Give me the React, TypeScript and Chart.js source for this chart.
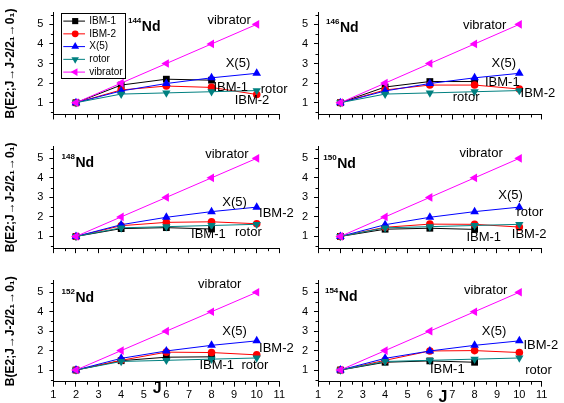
import React, { useEffect, useRef } from 'react';
import { Chart, registerables } from 'chart.js';

Chart.register(...registerables);

// ---------- data ----------
const J_VALUES = [2, 4, 6, 8, 10];
const J_IBM1 = [2, 4, 6, 8];
const X_TICKS = [1, 2, 3, 4, 5, 6, 7, 8, 9, 10, 11];
const Y_TICKS = [1, 2, 3, 4, 5];
const MASS_NUMBERS = ['144', '146', '148', '150', '152', '154'];
const ELEMENT = 'Nd';
const SERIES_NAMES = ['IBM-1', 'IBM-2', 'X(5)', 'rotor', 'vibrator'];
const Y_TITLE = 'B(E2;J→J-2/2₁→0₁)';
const X_TITLE = 'J';

const VIBRATOR = [1, 2, 3, 4, 5];
const X5 = [1, 1.6, 1.98, 2.27, 2.5];
const ROTOR = [1, 1.44, 1.5, 1.56, 1.62];

const IBM1_144 = [1, 1.9, 2.2, 2.15];
const IBM1_146 = [1, 1.8, 2.08, 2.08];
const IBM1_148 = [1, 1.4, 1.45, 1.38];
const IBM1_150 = [1, 1.37, 1.42, 1.36];
const IBM1_152 = [1, 1.48, 1.66, 1.68];
const IBM1_154 = [1, 1.4, 1.47, 1.4];

const IBM2_144 = [1, 1.65, 1.85, 1.78, 1.42];
const IBM2_146 = [1, 1.65, 1.9, 1.9, 1.7];
const IBM2_148 = [1, 1.55, 1.72, 1.75, 1.65];
const IBM2_150 = [1, 1.47, 1.63, 1.62, 1.48];
const IBM2_152 = [1, 1.5, 1.92, 1.9, 1.78];
const IBM2_154 = [1, 1.5, 1.98, 2.0, 1.9];

const IBM1_ALL = [IBM1_144, IBM1_146, IBM1_148, IBM1_150, IBM1_152, IBM1_154];
const IBM2_ALL = [IBM2_144, IBM2_146, IBM2_148, IBM2_150, IBM2_152, IBM2_154];

// ---------- layout / styles ----------
const FONT = '"Liberation Sans", Arial, Helvetica, sans-serif';
const Y_MIN = 0.4;
const Y_MAX = 5.6;

const COLS = [
  { left: 0, width: 310, yWidth: 53.4, padRight: 30.7, yTitle: true },
  { left: 290, width: 274, yWidth: 28, padRight: 22.3, yTitle: false },
];
const ROWS = [
  { top: 0, height: 134, padTop: 6.55, xHeight: 19.55, xLabels: false },
  { top: 134, height: 134, padTop: 6.25, xHeight: 19.85, xLabels: false },
  { top: 268, height: 135, padTop: 6.3, xHeight: 21.3, xLabels: true },
];

const STYLES = [
  { color: '#000000', shape: 'rect', radius: 4.8, rotation: 0, order: 4 },
  { color: '#ff0000', shape: 'circle', radius: 3.8, rotation: 0, order: 3 },
  { color: '#0000ff', shape: 'triangle', radius: 5, rotation: 0, order: 2 },
  { color: '#008080', shape: 'triangle', radius: 4.8, rotation: 180, order: 1 },
  { color: '#ff00ff', shape: 'triangle', radius: 5, rotation: 270, order: 0 },
];

// annotation label positions in data coordinates [text, J, value]
const LABEL_POS: [string, number, number][][] = [
  [['vibrator', 8.78, 5.19], ['X(5)', 9.17, 3.02], ['IBM-1', 8.85, 1.77], ['rotor', 10.77, 1.66], ['IBM-2', 9.79, 1.1]],
  [['vibrator', 8.45, 4.92], ['X(5)', 9.31, 2.99], ['IBM-1', 9.24, 2.06], ['rotor', 7.62, 1.29], ['IBM-2', 10.83, 1.45]],
  [['vibrator', 8.68, 5.21], ['X(5)', 9.02, 2.72], ['IBM-2', 10.87, 2.16], ['IBM-1', 7.86, 1.11], ['rotor', 9.63, 1.19]],
  [['vibrator', 8.29, 5.26], ['X(5)', 9.61, 3.12], ['rotor', 10.47, 2.21], ['IBM-1', 8.41, 0.95], ['IBM-2', 10.44, 1.11]],
  [['vibrator', 8.36, 5.4], ['X(5)', 9.02, 2.98], ['IBM-2', 10.87, 2.13], ['IBM-1', 8.23, 1.26], ['rotor', 9.92, 1.26]],
  [['vibrator', 8.5, 5.08], ['X(5)', 8.87, 2.98], ['IBM-2', 10.96, 2.29], ['IBM-1', 6.78, 1.02], ['rotor', 10.86, 1.0]],
];
// panel title position: [left J, baseline value]
const TITLE_POS: [number, number][] = [
  [4.3, 4.64], [1.36, 4.63], [1.36, 4.57], [1.24, 4.49], [1.36, 4.51], [1.31, 4.55],
];
// "J" axis label position [J, value] for bottom panels
const XTITLE_POS: Record<number, [number, number]> = { 4: [5.59, 0.05], 5: [6.59, -0.44] };

function drawMarker(ctx: CanvasRenderingContext2D, st: any, x: number, y: number) {
  const r = st.radius;
  ctx.beginPath();
  if (st.shape === 'rect') {
    const s = r * Math.SQRT1_2;
    ctx.rect(x - s, y - s, 2 * s, 2 * s);
  } else if (st.shape === 'circle') {
    ctx.arc(x, y, r, 0, Math.PI * 2);
  } else {
    let rad = (st.rotation * Math.PI) / 180;
    ctx.moveTo(x + Math.sin(rad) * r, y - Math.cos(rad) * r);
    rad += (2 * Math.PI) / 3;
    ctx.lineTo(x + Math.sin(rad) * r, y - Math.cos(rad) * r);
    rad += (2 * Math.PI) / 3;
    ctx.lineTo(x + Math.sin(rad) * r, y - Math.cos(rad) * r);
    ctx.closePath();
  }
  ctx.fillStyle = st.color;
  ctx.fill();
}

const overlayPlugin = {
  id: 'overlay',
  afterDraw(chart: any, _args: any, opts: any) {
    const ctx: CanvasRenderingContext2D = chart.ctx;
    const xs = chart.scales.x;
    const ys = chart.scales.y;
    const ca = chart.chartArea;
    const idx: number = opts.idx;
    ctx.save();
    // minor ticks
    ctx.strokeStyle = '#000';
    ctx.lineWidth = 1;
    for (let i = 0; i < X_TICKS.length - 1; i++) {
      const v = (X_TICKS[i] + X_TICKS[i + 1]) / 2;
      const px = Math.round(xs.getPixelForValue(v)) + 0.5;
      ctx.beginPath();
      ctx.moveTo(px, ca.bottom);
      ctx.lineTo(px, ca.bottom + 3);
      ctx.stroke();
    }
    const yMinor = [Y_TICKS[0] - 0.5, ...Y_TICKS.map((v) => v + 0.5)];
    for (const v of yMinor) {
      if (v < Y_MIN || v > Y_MAX) continue;
      const py = Math.round(ys.getPixelForValue(v)) + 0.5;
      ctx.beginPath();
      ctx.moveTo(ca.left, py);
      ctx.lineTo(ca.left - 2.5, py);
      ctx.stroke();
    }
    // annotations
    ctx.fillStyle = '#000';
    ctx.font = `13px ${FONT}`;
    ctx.textAlign = 'center';
    ctx.textBaseline = 'middle';
    for (const [t, j, v] of LABEL_POS[idx]) {
      ctx.fillText(t, xs.getPixelForValue(j), ys.getPixelForValue(v));
    }
    // title
    const [tj, tv] = TITLE_POS[idx];
    const tx = xs.getPixelForValue(tj);
    const ty = ys.getPixelForValue(tv);
    ctx.textAlign = 'left';
    ctx.textBaseline = 'alphabetic';
    ctx.font = `bold 8px ${FONT}`;
    const mass = MASS_NUMBERS[idx];
    ctx.fillText(mass, tx, ty - 8);
    const mw = ctx.measureText(mass).width;
    ctx.font = `bold 14px ${FONT}`;
    ctx.fillText(ELEMENT, tx + mw + 0.5, ty);
    // x axis title
    if (XTITLE_POS[idx]) {
      const [xj, xv] = XTITLE_POS[idx];
      ctx.font = `bold 16px ${FONT}`;
      ctx.textAlign = 'center';
      ctx.textBaseline = 'middle';
      ctx.fillText(X_TITLE, xs.getPixelForValue(xj), ys.getPixelForValue(xv));
    }
    // legend
    if (opts.legend) {
      const bx = ca.left + 7.3;
      const by = ca.top + 0.2;
      const bw = 64.3;
      const bh = 65;
      ctx.fillStyle = '#fff';
      ctx.fillRect(bx, by, bw, bh);
      ctx.strokeStyle = '#000';
      ctx.lineWidth = 1;
      ctx.strokeRect(Math.round(bx) + 0.5, Math.round(by) + 0.5, Math.round(bw), Math.round(bh));
      chart.data.datasets.forEach((ds: any, i: number) => {
        const st = STYLES[i];
        const cy = by + 8.3 + i * 12.75;
        ctx.strokeStyle = st.color;
        ctx.lineWidth = 1;
        ctx.beginPath();
        ctx.moveTo(bx + 2.6, cy);
        ctx.lineTo(bx + 24.3, cy);
        ctx.stroke();
        drawMarker(ctx, { ...st, radius: st.radius * 0.9 }, bx + 14.5, cy);
        ctx.fillStyle = '#000';
        ctx.font = `10px ${FONT}`;
        ctx.textAlign = 'left';
        ctx.textBaseline = 'middle';
        ctx.fillText(ds.label, bx + 28.6, cy);
      });
    }
    ctx.restore();
  },
};

function buildConfig(idx: number): any {
  const col = COLS[idx % 2];
  const row = ROWS[Math.floor(idx / 2)];
  const seriesValues = [IBM1_ALL[idx], IBM2_ALL[idx], X5, ROTOR, VIBRATOR];
  const datasets = seriesValues.map((vals, i) => {
    const st = STYLES[i];
    const js = i === 0 ? J_IBM1 : J_VALUES;
    return {
      label: SERIES_NAMES[i],
      data: vals.map((v, k) => ({ x: js[k], y: v })),
      borderColor: st.color,
      backgroundColor: st.color,
      borderWidth: 1,
      pointStyle: st.shape,
      pointRadius: st.radius,
      pointRotation: st.rotation,
      pointBorderWidth: 0,
      pointBackgroundColor: st.color,
      pointBorderColor: st.color,
      tension: 0,
      order: st.order,
      clip: false,
    };
  });
  const tickFont = { family: FONT, size: 11 };
  return {
    type: 'line',
    data: { datasets },
    options: {
      animation: false,
      responsive: false,
      maintainAspectRatio: false,
      events: [],
      layout: { padding: { top: row.padTop, right: col.padRight, left: 0, bottom: 0 } },
      plugins: {
        legend: { display: false },
        tooltip: { enabled: false },
        overlay: { idx, legend: idx === 0 },
      },
      scales: {
        x: {
          type: 'linear',
          min: X_TICKS[0],
          max: X_TICKS[X_TICKS.length - 1],
          afterBuildTicks: (s: any) => {
            s.ticks = X_TICKS.map((v) => ({ value: v }));
          },
          afterFit: (s: any) => {
            s.height = row.xHeight;
          },
          border: { display: true, color: '#000', width: 1 },
          grid: { display: true, drawOnChartArea: false, drawTicks: true, tickLength: 5, color: '#000', tickColor: '#000', tickWidth: 1 },
          ticks: { display: row.xLabels, color: '#000', font: tickFont, padding: 2, maxRotation: 0, autoSkip: false },
        },
        y: {
          type: 'linear',
          min: Y_MIN,
          max: Y_MAX,
          afterBuildTicks: (s: any) => {
            s.ticks = Y_TICKS.map((v) => ({ value: v }));
          },
          afterFit: (s: any) => {
            s.width = col.yWidth;
          },
          border: { display: true, color: '#000', width: 1 },
          grid: { display: true, drawOnChartArea: false, drawTicks: true, tickLength: 4, color: '#000', tickColor: '#000', tickWidth: 1 },
          ticks: { color: '#000', font: tickFont, padding: 6, autoSkip: false },
          title: {
            display: col.yTitle,
            text: Y_TITLE,
            color: '#000',
            font: { family: FONT, size: 12, weight: 'bold' },
            padding: { top: 3, bottom: 0 },
          },
        },
      },
    },
    plugins: [overlayPlugin],
  };
}

function Panel({ idx }: { idx: number }) {
  const ref = useRef<HTMLCanvasElement>(null);
  const col = COLS[idx % 2];
  const row = ROWS[Math.floor(idx / 2)];
  useEffect(() => {
    if (!ref.current) return;
    const chart = new Chart(ref.current, buildConfig(idx));
    return () => chart.destroy();
  }, [idx]);
  return (
    <canvas
      ref={ref}
      width={col.width}
      height={row.height}
      style={{ position: 'absolute', left: col.left, top: row.top, width: col.width, height: row.height }}
    />
  );
}

export default function App() {
  return (
    <div style={{ position: 'absolute', left: 0, top: 0, width: 564, height: 403, background: '#fff', overflow: 'hidden' }}>
      {MASS_NUMBERS.map((_, i) => (
        <Panel key={i} idx={i} />
      ))}
    </div>
  );
}
